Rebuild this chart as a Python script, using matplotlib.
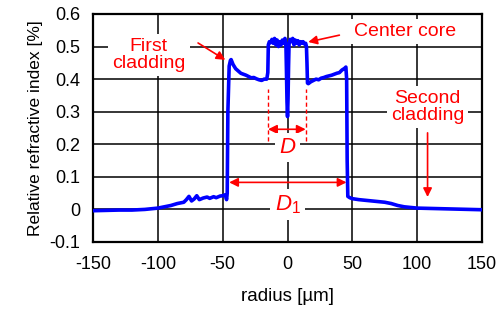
import matplotlib
matplotlib.use("Agg")
import matplotlib.pyplot as plt

plt.rcParams['font.family'] = ['Liberation Sans', 'DejaVu Sans']
plt.rcParams['axes.unicode_minus'] = False
plt.rcParams['mathtext.fontset'] = 'custom'
plt.rcParams['mathtext.it'] = 'Liberation Sans:italic'
plt.rcParams['mathtext.rm'] = 'Liberation Sans'

# perfil de indice
radius = [-150, -140, -130, -120, -110, -100, -95, -90, -85, -80, -78, -76, -74,
          -72, -70, -68, -65, -62, -60, -57, -55, -52, -50, -48, -47, -46.5, -46,
          -45, -44, -43.5, -42, -40, -38, -36, -34, -32, -30, -28, -26, -24,
          -22, -20, -18, -16, -15.2, -14.8, -14, -13, -12, -11, -10, -9, -8, -7,
          -6, -5, -4, -3, -2, -1.2, -0.8, -0.4, 0, 0.4, 0.8, 1.2, 2, 3, 4, 5, 6,
          7, 8, 9, 10, 11, 12, 13, 14, 14.6, 15.0, 15.4, 16, 18, 20, 22, 24, 26,
          28, 30, 32, 34, 36, 38, 40, 42, 44, 45, 45.6, 46, 46.5, 48, 50, 55,
          60, 65, 70, 75, 80, 85, 90, 95, 100, 110, 120, 130, 140, 150]
index = [-0.004, -0.003, -0.002, -0.002, 0.0, 0.004, 0.008, 0.012, 0.018, 0.022,
         0.03, 0.04, 0.026, 0.032, 0.042, 0.03, 0.035, 0.038, 0.034, 0.039,
         0.036, 0.041, 0.042, 0.045, 0.03, 0.05, 0.3, 0.44, 0.458, 0.46, 0.445,
         0.432, 0.425, 0.418, 0.415, 0.412, 0.408, 0.404, 0.405, 0.401, 0.398,
         0.396, 0.40, 0.40, 0.42, 0.505, 0.515, 0.512, 0.522, 0.51, 0.525,
         0.505, 0.52, 0.50, 0.515, 0.505, 0.52, 0.51, 0.525, 0.50, 0.42, 0.33,
         0.285, 0.34, 0.44, 0.51, 0.522, 0.515, 0.525, 0.505, 0.52, 0.51,
         0.518, 0.505, 0.515, 0.51, 0.515, 0.508, 0.51, 0.50, 0.45, 0.388,
         0.386, 0.392, 0.396, 0.40, 0.398, 0.403, 0.405, 0.408, 0.41, 0.412,
         0.415, 0.418, 0.42, 0.428, 0.433, 0.437, 0.40, 0.15, 0.04, 0.036,
         0.033, 0.03, 0.028, 0.026, 0.024, 0.022, 0.018, 0.012, 0.008, 0.006,
         0.004, 0.003, 0.002, 0.001, 0.0, -0.001]

xticks = [-150, -100, -50, 0, 50, 100, 150]
yticks = [-0.1, 0, 0.1, 0.2, 0.3, 0.4, 0.5, 0.6]
ytick_labels = ['-0.1', '0', '0.1', '0.2', '0.3', '0.4', '0.5', '0.6']

RED = '#ff0000'

fig = plt.figure(figsize=(5.02, 3.2), dpi=100)
ax = fig.add_axes([0.1853, 0.2438, 0.7749, 0.7125])

ax.plot(radius, index, color='#0000ff', lw=2.6, zorder=4)

ax.set_xlim(-150, 150)
ax.set_ylim(-0.1, 0.6)
ax.set_xticks(xticks)
ax.set_xticklabels([str(t) for t in xticks])
ax.set_yticks(yticks)
ax.set_yticklabels(ytick_labels)
ax.tick_params(length=0, labelsize=13)
ax.tick_params(axis='x', pad=10)
ax.tick_params(axis='y', pad=9)
ax.grid(True, color='black', lw=1.1)
ax.set_axisbelow(True)
for s in ax.spines.values():
    s.set_linewidth(1.6)

ax.set_xlabel('radius [µm]', fontsize=13.5, labelpad=11)
ax.set_ylabel('Relative refractive index [%]', fontsize=12.5, labelpad=5)

box = dict(fc='white', ec='none', pad=3)
flecha = dict(arrowstyle='-|>', color=RED, lw=1.2, mutation_scale=13,
              shrinkA=0, shrinkB=0)
doble = dict(arrowstyle='<|-|>', color=RED, lw=1.2, mutation_scale=13,
             shrinkA=0, shrinkB=0)

# etiquetas
ax.text(-107, 0.475, 'First\ncladding', color=RED, fontsize=14, ha='center',
        va='center', bbox=box, zorder=5, linespacing=1.0)
ax.annotate('', xy=(-48, 0.459), xytext=(-69, 0.511), arrowprops=flecha)

ax.text(91, 0.545, 'Center core', color=RED, fontsize=14, ha='center',
        va='center', bbox=box, zorder=5)
ax.annotate('', xy=(16, 0.514), xytext=(40, 0.535), arrowprops=flecha)

ax.text(108, 0.315, 'Second\ncladding', color=RED, fontsize=14, ha='center',
        va='center', bbox=box, zorder=5, linespacing=1.0)
ax.annotate('', xy=(108, 0.038), xytext=(108, 0.235), arrowprops=flecha)

# diametro del nucleo
ax.plot([-15, -15], [0.21, 0.37], color=RED, lw=1, ls=(0, (3, 2)), zorder=5)
ax.plot([14, 14], [0.21, 0.37], color=RED, lw=1, ls=(0, (3, 2)), zorder=5)
ax.annotate('', xy=(-15, 0.246), xytext=(14, 0.246), arrowprops=doble)
ax.text(0, 0.19, '$D$', color=RED, fontsize=16, ha='center', va='center',
        bbox=box, zorder=5)

# diametro de la primera cubierta
ax.annotate('', xy=(-45, 0.083), xytext=(45.5, 0.083), arrowprops=doble)
ax.text(0, 0.015, '$D_{\\mathrm{1}}$', color=RED, fontsize=16, ha='center',
        va='center', bbox=box, zorder=5)

fig.savefig('out.png', dpi=100)
